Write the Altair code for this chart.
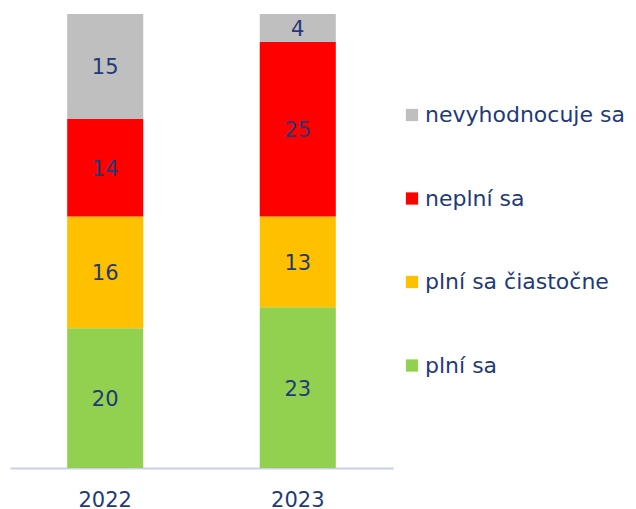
import altair as alt
import pandas as pd

years = ["2022", "2022", "2022", "2022", "2023", "2023", "2023", "2023"]
categories = ["plní sa", "plní sa čiastočne", "neplní sa", "nevyhodnocuje sa"] * 2
values = [20, 16, 14, 15, 23, 13, 25, 4]
stack_order = [0, 1, 2, 3] * 2

legend_order = ["nevyhodnocuje sa", "neplní sa", "plní sa čiastočne", "plní sa"]
legend_colors = ["#bfbfbf", "#ff0000", "#ffc000", "#92d050"]

df = pd.DataFrame({"year": years, "cat": categories, "value": values, "ord": stack_order})

TEXT = "#1f3a78"
FONT = "DejaVu Sans"

x = alt.X("year:N", title=None,
          scale=alt.Scale(paddingInner=0.605, paddingOuter=0.297),
          axis=alt.Axis(labelAngle=0, labelFontSize=21, labelColor=TEXT, labelFont=FONT,
                        ticks=False, domainColor="#c9cfe9", domainWidth=2, labelPadding=21))

bars = alt.Chart(df).mark_bar().encode(
    x=x,
    y=alt.Y("value:Q", stack="zero", title=None, axis=None,
            scale=alt.Scale(domain=[0, 65], nice=False)),
    color=alt.Color("cat:N", scale=alt.Scale(domain=legend_order, range=legend_colors),
                    legend=alt.Legend(title=None, orient="none", legendX=391, legendY=90,
                                      symbolType="square", symbolSize=150, symbolStrokeWidth=0,
                                      labelFontSize=22, labelColor=TEXT, labelFont=FONT,
                                      rowPadding=61.5, labelOffset=2, labelLimit=300)),
    order=alt.Order("ord:Q"),
)

labels = alt.Chart(df).transform_window(
    cum="sum(value)", sort=[alt.SortField("ord")], groupby=["year"], frame=[None, 0]
).transform_calculate(
    mid="datum.cum - datum.value / 2"
).mark_text(fontSize=21, color=TEXT, font=FONT, dy=2).encode(
    x=alt.X("year:N"),
    y=alt.Y("mid:Q", scale=alt.Scale(domain=[0, 65], nice=False)),
    text=alt.Text("value:Q"),
)

chart = (bars + labels).properties(
    width=383, height=454,
    autosize=alt.AutoSizeParams(type="none"),
    padding={"left": 2, "top": 6, "right": 235, "bottom": 40},
).configure(background="white").configure_view(strokeWidth=0)

chart.save("out.html", embed_options={"renderer": "svg", "actions": False})
